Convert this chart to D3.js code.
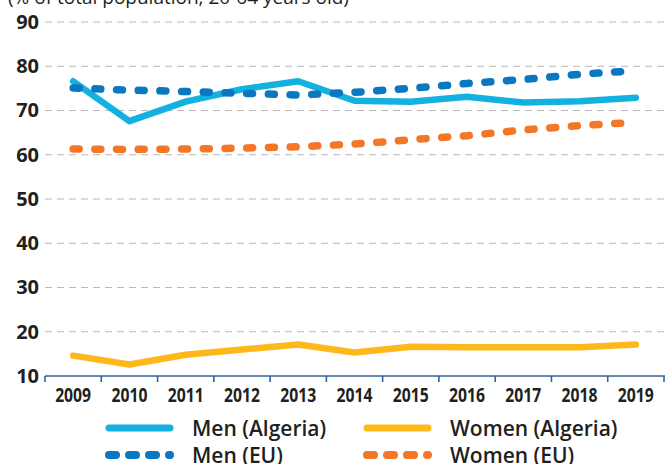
<!DOCTYPE html>
<html>
<head>
<meta charset="utf-8">
<script src="https://cdn.jsdelivr.net/npm/d3@7"></script>
<style>
  body { margin: 0; background: #fff; }
  svg { display: block; }
</style>
</head>
<body>
<script>
var years = ["2009", "2010", "2011", "2012", "2013", "2014", "2015", "2016", "2017", "2018", "2019"];
var menAlgeria = [76.6, 67.6, 72.0, 74.8, 76.6, 72.2, 72.0, 73.1, 71.8, 72.1, 72.9];
var womenAlgeria = [14.6, 12.6, 14.8, 16.0, 17.1, 15.3, 16.6, 16.5, 16.5, 16.5, 17.1];
var menEU = [75.1, 74.6, 74.3, 73.9, 73.5, 74.1, 75.0, 76.1, 77.0, 78.2, 79.0];
var womenEU = [61.3, 61.2, 61.3, 61.5, 61.8, 62.4, 63.4, 64.3, 65.6, 66.6, 67.3];
var yTicks = [10, 20, 30, 40, 50, 60, 70, 80, 90];
var subtitle = "(% of total population, 20-64 years old)";

var width = 665, height = 464;
var plotLeft = 45, plotRight = 664, plotTop = 22, plotBottom = 376;

var series = [
    {name: "Men (Algeria)", values: menAlgeria, color: "#14b1e0", dashed: false},
    {name: "Women (Algeria)", values: womenAlgeria, color: "#fdb91c", dashed: false},
    {name: "Men (EU)", values: menEU, color: "#0a78c0", dashed: true},
    {name: "Women (EU)", values: womenEU, color: "#f47627", dashed: true}
];

var svg = d3.select("body").append("svg")
    .attr("width", width)
    .attr("height", height);

var x = d3.scaleBand().domain(years).range([plotLeft, plotRight]);
var y = d3.scaleLinear().domain([10, 90]).range([plotBottom, plotTop]);

function px(d) { return x(d) + x.bandwidth() / 2; }

// subtitle, clipped at the top like the original
svg.append("text")
    .attr("x", 8)
    .attr("y", 4)
    .attr("font-family", "'Open Sans', sans-serif")
    .attr("font-size", 19)
    .attr("fill", "#231f20")
    .text(subtitle);

// gridlines
svg.append("g")
    .selectAll("line")
    .data(yTicks.slice(1))
    .enter().append("line")
    .attr("x1", plotLeft)
    .attr("x2", width)
    .attr("y1", function(d) { return y(d); })
    .attr("y2", function(d) { return y(d); })
    .attr("stroke", "#b9b9b9")
    .attr("stroke-width", 1.2)
    .attr("stroke-dasharray", "7,5");

// y labels
var yAxis = svg.append("g")
    .attr("transform", "translate(" + plotLeft + ",0)")
    .call(d3.axisLeft(y).tickValues(yTicks).tickSize(0).tickPadding(6));
yAxis.select(".domain").remove();
yAxis.selectAll("text")
    .attr("font-family", "'Open Sans', sans-serif")
    .attr("font-weight", "bold")
    .attr("font-size", 20)
    .attr("fill", "#231f20");

// x axis: ticks sit between the years
var xAxis = svg.append("g")
    .attr("transform", "translate(0," + plotBottom + ")");
xAxis.append("line")
    .attr("x1", plotLeft)
    .attr("x2", width)
    .attr("stroke", "#2f649e")
    .attr("stroke-width", 1.6);
xAxis.selectAll(".tk")
    .data(years.concat(["end"]))
    .enter().append("line")
    .attr("class", "tk")
    .attr("x1", function(d, i) { return plotLeft + i * x.step(); })
    .attr("x2", function(d, i) { return plotLeft + i * x.step(); })
    .attr("y1", 0)
    .attr("y2", 6)
    .attr("stroke", "#2f649e")
    .attr("stroke-width", 1.6);
xAxis.selectAll(".lbl")
    .data(years)
    .enter().append("text")
    .attr("class", "lbl")
    .attr("x", function(d) { return px(d) - 18; })
    .attr("y", 26)
    .attr("textLength", 36)
    .attr("lengthAdjust", "spacingAndGlyphs")
    .attr("font-family", "'Open Sans', sans-serif")
    .attr("font-weight", "bold")
    .attr("font-size", 19)
    .attr("fill", "#231f20")
    .text(function(d) { return d; });

// lines
var line = d3.line()
    .x(function(d, i) { return px(years[i]); })
    .y(function(d) { return y(d); });

var drawOrder = [series[0], series[2], series[3], series[1]];
svg.append("g")
    .selectAll("path")
    .data(drawOrder)
    .enter().append("path")
    .attr("d", function(s) { return line(s.values); })
    .attr("fill", "none")
    .attr("stroke", function(s) { return s.color; })
    .attr("stroke-width", function(s) { return s.dashed ? 7.5 : 6.5; })
    .attr("stroke-dasharray", function(s) { return s.dashed ? "6,15.7" : null; })
    .attr("stroke-linecap", "round")
    .attr("stroke-linejoin", "round");

// legend
var legendPos = [
    {x: 109, y: 428}, {x: 367, y: 428},
    {x: 109, y: 455}, {x: 367, y: 455}
];
var legend = svg.append("g")
    .selectAll("g")
    .data(series)
    .enter().append("g")
    .attr("transform", function(s, i) { return "translate(" + legendPos[i].x + "," + legendPos[i].y + ")"; });
legend.append("line")
    .attr("x1", 0)
    .attr("x2", 61)
    .attr("stroke", function(s) { return s.color; })
    .attr("stroke-width", function(s) { return s.dashed ? 8 : 7; })
    .attr("stroke-dasharray", function(s) { return s.dashed ? "7,13" : null; })
    .attr("stroke-linecap", "round");
legend.append("text")
    .attr("x", 83)
    .attr("y", 8)
    .attr("font-family", "'Open Sans', sans-serif")
    .attr("font-weight", 600)
    .attr("font-size", 21)
    .attr("fill", "#231f20")
    .text(function(s) { return s.name; });
</script>
</body>
</html>
